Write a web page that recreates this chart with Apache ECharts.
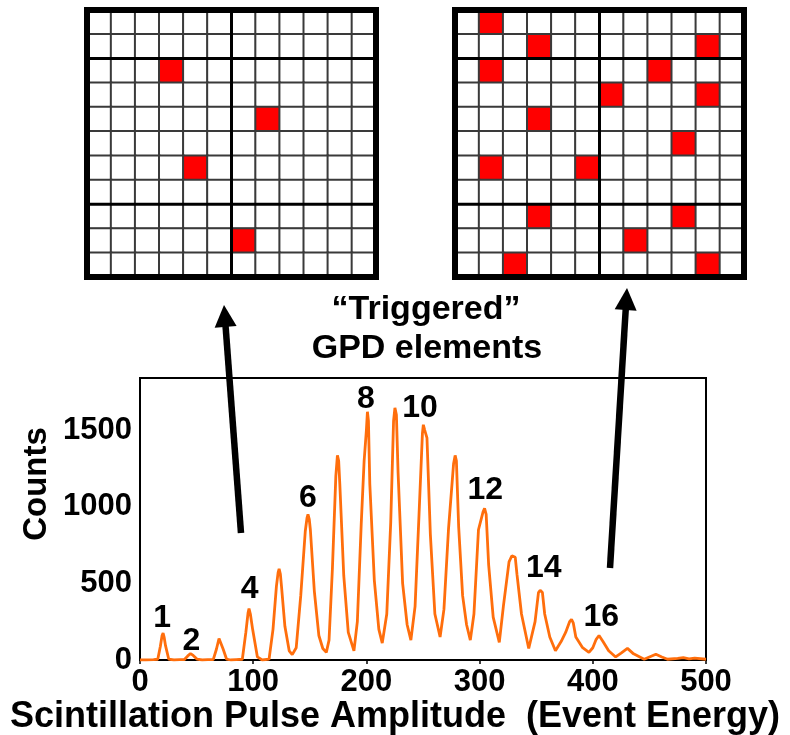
<!DOCTYPE html>
<html>
<head>
<meta charset="utf-8">
<script src="https://cdn.jsdelivr.net/npm/echarts@6/dist/echarts.min.js"></script>
<style>
    html, body { margin: 0; padding: 0; background: #fff; }
    #main { width: 790px; height: 735px; }
</style>
</head>
<body>
<div id="main"></div>
<script>
    // detector maps, 11 rows x 12 columns; hits are [row, col] counted from top-left
    var gridRows = 11;
    var gridCols = 12;
    var leftHits = [[3, 4], [5, 8], [7, 5], [10, 7]];
    var rightHits = [[1, 2], [2, 4], [2, 11], [3, 2], [3, 9], [4, 7], [4, 11], [5, 4], [6, 10],
                     [7, 2], [7, 6], [9, 4], [9, 10], [10, 8], [11, 3], [11, 11]];
    // darker separators: after column 6, after rows 2 and 8
    var thickCols = [6];
    var thickRows = [2, 8];

    // pulse height spectrum
    var amplitude = [0, 5, 12, 15.7, 18, 19.5, 20.4, 21.3, 22.5, 25.4, 30, 35, 39, 42, 44.6, 47, 50.5, 55, 60, 64.7,
        67.5, 69.8, 70.6, 71.5, 73.5, 76.5, 80, 85, 90.4, 93.5, 95.5, 96.3, 97.5, 99.5, 103.7, 108, 114, 117.5, 120.5,
        122, 122.9, 124, 125, 128, 131.8, 134.5, 138, 142, 146, 147.5, 148.4, 149.5, 150.5, 154, 158, 161.5, 164.6, 167, 170,
        173, 174.4, 175.5, 176.5, 180, 184, 189, 192, 195.5, 198, 200, 200.9, 201.8, 203, 207, 211, 214, 218, 221.5,
        224, 225.2, 226.5, 228, 232, 236, 239.3, 243, 246.5, 249.5, 250.3, 251.5, 253.5, 256.5, 260.5, 265.1, 268.5, 272.5,
        277, 278.4, 279.5, 281.5, 285, 288.5, 291.8, 295, 299, 303, 304.4, 305.8, 308, 312, 317.4, 321, 326, 328.5, 330, 331.5, 333, 337,
        343.4, 349, 352, 353.5, 354.3, 355.5, 357.5, 362, 367, 372, 376, 379.5, 381.2, 382.8, 385, 391, 396.6, 400, 403, 405.5,
        409, 414, 420.2, 425, 430.6, 436, 445.4, 450, 455.7, 461, 466, 475, 480, 485, 490, 500];
    var counts = [0, 0, 2, 5, 90, 160, 175, 150, 95, 5, 0, 3, 2, 25, 42, 30, 5, 0, 3, 2,
        70, 140, 152, 138, 70, 5, 0, 3, 5, 180, 310, 335, 300, 200, 20, 0, 5, 200, 480,
        570, 595, 560, 480, 220, 60, 35, 80, 420, 840, 925, 950, 920, 850, 450, 160, 75, 50, 130, 600,
        1200, 1335, 1300, 1150, 550, 180, 60, 250, 900, 1300, 1500, 1620, 1560, 1150, 520, 200, 110, 300, 900,
        1560, 1645, 1600, 1220, 500, 230, 130, 350, 950, 1480, 1535, 1500, 1450, 820, 300, 150, 330, 850,
        1280, 1335, 1300, 870, 420, 230, 130, 300, 850, 965, 990, 950, 620, 280, 115, 350, 640, 680, 690, 670, 560, 300,
        75, 250, 440, 455, 460, 440, 300, 150, 60, 120, 180, 250, 265, 240, 150, 80, 50, 80, 135, 160,
        120, 60, 20, 45, 76, 40, 5, 20, 38, 20, 5, 10, 15, 8, 12, 5];

    var peakNames = ['1', '2', '4', '6', '8', '10', '12', '14', '16'];
    var peakLabelX = [19.5, 45.5, 96.9, 148.3, 199.6, 247.3, 305, 356.7, 407.5];
    var peakLabelY = [272, 120, 461, 1054, 1705, 1640, 1108, 602, 278];

    var font = 'Liberation Sans, Arial, sans-serif';
    var colCats = [];
    var rowCats = [];
    for (var i = 1; i <= gridCols; i++) colCats.push(String(i));
    for (var j = 1; j <= gridRows; j++) rowCats.push(String(j));

    function buildCells(hits) {
        var cells = [];
        for (var r = 0; r < gridRows; r++) {
            for (var c = 0; c < gridCols; c++) cells.push([c, r, 0]);
        }
        hits.forEach(function (h) {
            cells[(h[0] - 1) * gridCols + (h[1] - 1)][2] = 1;
        });
        return cells;
    }

    // separators: [colIndex, rowIndex, kind] kind 0 = vertical after col, 1 = horizontal after row
    function buildSeparators() {
        var out = [];
        thickCols.forEach(function (c) { out.push([c - 1, 0, 0]); });
        thickRows.forEach(function (r) { out.push([0, r - 1, 1]); });
        return out;
    }

    function mapX(gi) {
        return {
            type: 'category', gridIndex: gi, data: colCats,
            axisLine: { show: false }, axisTick: { show: false }, axisLabel: { show: false }, splitLine: { show: false }
        };
    }
    function mapY(gi) {
        return {
            type: 'category', gridIndex: gi, data: rowCats, inverse: true,
            axisLine: { show: false }, axisTick: { show: false }, axisLabel: { show: false }, splitLine: { show: false }
        };
    }
    function mapSeries(gi, hits) {
        return {
            type: 'heatmap', xAxisIndex: gi, yAxisIndex: gi,
            data: buildCells(hits),
            itemStyle: { borderColor: '#3a3a3a', borderWidth: 2 },
            emphasis: { disabled: true },
            silent: true
        };
    }
    function sepSeries(gi) {
        return {
            type: 'custom', xAxisIndex: gi, yAxisIndex: gi, z: 5, silent: true,
            data: buildSeparators(),
            renderItem: function (params, api) {
                var pt = api.coord([api.value(0), api.value(1)]);
                var sz = api.size([1, 1]);
                var cs = params.coordSys;
                var shape;
                if (api.value(2) === 0) {
                    var x = pt[0] + sz[0] / 2;
                    shape = { x1: x, y1: cs.y, x2: x, y2: cs.y + cs.height };
                } else {
                    var y = pt[1] + sz[1] / 2;
                    shape = { x1: cs.x, y1: y, x2: cs.x + cs.width, y2: y };
                }
                return { type: 'line', shape: shape, style: { stroke: '#000', lineWidth: 3 } };
            }
        };
    }

    // arrow graphics (annotation only)
    function arrow(x1, y1, x2, y2) {
        var dx = x2 - x1, dy = y2 - y1;
        var len = Math.sqrt(dx * dx + dy * dy);
        var ux = dx / len, uy = dy / len;
        var headL = 22, headW = 11;
        var bx = x2 - ux * headL, by = y2 - uy * headL;
        return [
            { type: 'line', shape: { x1: x1, y1: y1, x2: bx + ux * 2, y2: by + uy * 2 },
              style: { stroke: '#000', lineWidth: 6.5 } },
            { type: 'polygon', shape: { points: [[x2, y2], [bx - uy * headW, by + ux * headW], [bx + uy * headW, by - ux * headW]] },
              style: { fill: '#000' } }
        ];
    }

    var myChart = echarts.init(document.getElementById('main'));

    var option = {
        backgroundColor: '#fff',
        animation: false,
        grid: [
            { left: 87, top: 10, width: 289, height: 267, show: true, z: 7, borderColor: '#000', borderWidth: 6, backgroundColor: 'transparent' },
            { left: 455, top: 10, width: 289, height: 267, show: true, z: 7, borderColor: '#000', borderWidth: 6, backgroundColor: 'transparent' },
            { left: 140, right: 84, top: 378, bottom: 75, show: true, borderColor: '#000', borderWidth: 2 }
        ],
        visualMap: {
            type: 'piecewise', show: false, seriesIndex: [0, 1], dimension: 2,
            pieces: [{ value: 0, color: '#ffffff' }, { value: 1, color: '#ff0000' }]
        },
        xAxis: [
            mapX(0), mapX(1),
            {
                type: 'value', gridIndex: 2, min: 0, max: 500, interval: 100,
                axisLine: { show: true, lineStyle: { color: '#000', width: 2 } },
                axisTick: { show: true, length: 4, lineStyle: { color: '#000', width: 1.5 } },
                splitLine: { show: false },
                axisLabel: { color: '#000', fontSize: 31, fontWeight: 'bold', fontFamily: font, margin: 7 }
            }
        ],
        yAxis: [
            mapY(0), mapY(1),
            {
                type: 'value', gridIndex: 2, min: 0, max: 1840, interval: 500,
                axisLine: { show: true, lineStyle: { color: '#000', width: 2 } },
                axisTick: { show: false },
                splitLine: { show: false },
                axisLabel: {
                    color: '#000', fontSize: 31, fontWeight: 'bold', fontFamily: font, margin: 8,
                    formatter: function (v) { return v % 500 === 0 ? String(v) : ''; }
                }
            }
        ],
        series: [
            mapSeries(0, leftHits),
            mapSeries(1, rightHits),
            {
                type: 'line', xAxisIndex: 2, yAxisIndex: 2,
                data: amplitude.map(function (x, k) { return [x, counts[k]]; }),
                showSymbol: false, symbol: 'none',
                lineStyle: { color: '#ff6e0c', width: 2.8 },
                silent: true
            },
            {
                type: 'scatter', xAxisIndex: 2, yAxisIndex: 2,
                data: peakLabelX.map(function (x, k) { return [x, peakLabelY[k], peakNames[k]]; }),
                symbolSize: 1,
                itemStyle: { color: 'rgba(0,0,0,0)', opacity: 1 },
                label: {
                    show: true, position: 'inside', color: '#000', opacity: 1,
                    fontSize: 32, fontWeight: 'bold', fontFamily: font,
                    formatter: function (p) { return p.value[2]; }
                },
                silent: true
            },
            sepSeries(0),
            sepSeries(1)
        ],
        graphic: arrow(241, 533, 224, 305).concat(arrow(610, 568, 627, 288)).concat([
            { type: 'text', x: 426, y: 310, style: { text: '\u201cTriggered\u201d', fill: '#000', font: 'bold 34px ' + font, textAlign: 'center', textVerticalAlign: 'middle' } },
            { type: 'text', x: 427, y: 349, style: { text: 'GPD elements', fill: '#000', font: 'bold 34px ' + font, textAlign: 'center', textVerticalAlign: 'middle' } },
            { type: 'text', x: 37, y: 484, rotation: Math.PI / 2, style: { text: 'Counts', fill: '#000', font: 'bold 33px ' + font, textAlign: 'center', textVerticalAlign: 'middle' } },
            { type: 'text', x: 395, y: 717, style: { text: 'Scintillation Pulse Amplitude  (Event Energy)', fill: '#000', font: 'bold 36px ' + font, textAlign: 'center', textVerticalAlign: 'middle' } }
        ])
    };

    myChart.setOption(option);
</script>
</body>
</html>
